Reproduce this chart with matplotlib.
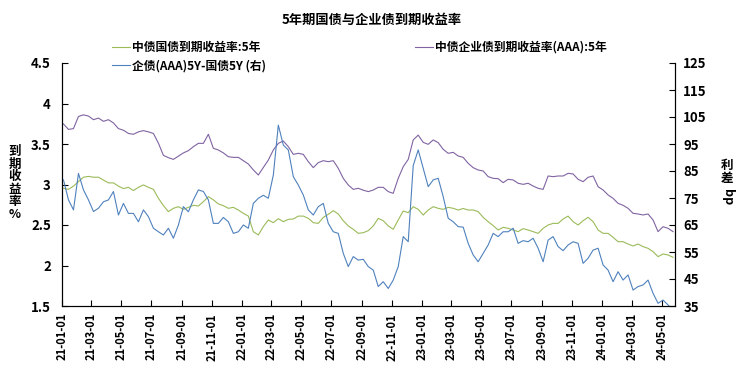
import matplotlib
matplotlib.use("Agg")
import matplotlib.pyplot as plt
import matplotlib.dates as mdates
import pandas as pd

plt.rcParams["font.family"] = ["Noto Sans CJK SC", "DejaVu Sans"]
plt.rcParams["font.weight"] = "bold"

# ---------------- data (~10 day steps) ----------------
start_date = "2021-01-04"
end_date = "2024-05-24"

# 中债企业债到期收益率(AAA):5年, %
corp_5y = [
    3.747, 3.68, 3.69, 3.84, 3.86, 3.845, 3.80, 3.82, 3.78, 3.80, 3.76, 3.69, 3.67, 3.63, 3.62,
    3.65, 3.665, 3.65, 3.63, 3.51, 3.36,
    3.331, 3.31, 3.35, 3.39, 3.418, 3.467, 3.508, 3.508, 3.62, 3.447, 3.426, 3.39, 3.343, 3.335,
    3.335, 3.294, 3.253, 3.18, 3.117, 3.21,
    3.302, 3.426, 3.508, 3.537, 3.467, 3.372, 3.385, 3.372, 3.282, 3.208, 3.27, 3.294, 3.282,
    3.294, 3.20, 3.076, 2.994, 2.94, 2.953, 2.93,
    2.912, 2.932, 2.965, 2.965, 2.912, 2.891, 3.076, 3.22, 3.31, 3.55, 3.61, 3.52, 3.496, 3.55,
    3.517, 3.434, 3.385, 3.397, 3.352, 3.335,
    3.261, 3.208, 3.179, 3.167, 3.097, 3.076, 3.072, 3.023, 3.064, 3.056, 3.015, 3.002, 3.015,
    2.981, 2.953, 2.94, 3.105, 3.097, 3.105, 3.105,
    3.138, 3.13, 3.064, 3.035, 3.089, 3.105, 2.973, 2.932, 2.871, 2.829, 2.768, 2.743, 2.706,
    2.644, 2.636, 2.624, 2.636, 2.562, 2.418, 2.479, 2.459, 2.418,
]

# 中债国债到期收益率:5年, %
govt_5y = [
    2.953, 2.94, 2.98, 3.035, 3.09, 3.10, 3.09, 3.09, 3.055, 3.02, 3.02, 2.98, 2.95, 2.965, 2.925,
    2.965, 2.995, 2.965, 2.94, 2.83, 2.74,
    2.665, 2.706, 2.726, 2.693, 2.718, 2.743, 2.735, 2.788, 2.85, 2.81, 2.76, 2.739, 2.706, 2.718,
    2.685, 2.644, 2.61, 2.418, 2.377, 2.48,
    2.562, 2.529, 2.578, 2.541, 2.57, 2.574, 2.61, 2.61, 2.582, 2.529, 2.52, 2.594, 2.632, 2.677,
    2.636, 2.553, 2.488, 2.447, 2.397, 2.405,
    2.43, 2.488, 2.582, 2.553, 2.488, 2.447, 2.562, 2.673, 2.652, 2.726, 2.693, 2.623, 2.685,
    2.726, 2.706, 2.693, 2.718, 2.706, 2.685, 2.704,
    2.685, 2.685, 2.665, 2.595, 2.541, 2.492, 2.438, 2.471, 2.459, 2.438, 2.418, 2.455, 2.438,
    2.418, 2.397, 2.459, 2.50, 2.52, 2.52, 2.574,
    2.61, 2.541, 2.50, 2.553, 2.595, 2.541, 2.438, 2.397, 2.397, 2.348, 2.294, 2.294, 2.265,
    2.241, 2.265, 2.233, 2.212, 2.171, 2.109, 2.142, 2.13, 2.101,
]

# 企债(AAA)5Y-国债5Y, bp (right axis)
spread_bp = [
    81.7, 74.3, 70.6, 84.1, 78, 74.3, 70, 71.2, 73.6, 74.3, 77.4, 68.7, 73, 69.3, 69.3,
    66.2, 70.6, 68.1, 63.8, 62.5, 61.3,
    63.8, 60.1, 65, 71.8, 69.9, 74.3, 78, 77.4, 74.3, 65.6, 65.6, 67.8, 66.2, 61.9,
    62.5, 65, 63.8, 73, 74.9, 76,
    74.9, 83.5, 102, 94.6, 92.8, 82.9, 79.8, 76.1, 70.6, 68.7, 71.8, 73, 65.6, 62.5,
    61.9, 54.5, 49.6, 53.3, 52, 52.3,
    49.6, 48.3, 42.2, 44, 41.5, 44.6, 49.6, 60.7, 58.8, 87, 92.8, 86, 79.2, 81.7,
    82.3, 75.5, 67.5, 66.2, 64.4, 64.2,
    58.2, 53.9, 51.4, 54.5, 57.6, 61.9, 60.7, 62.5, 62.5, 63.8, 58.2, 59.2, 58.8,
    60.1, 56.4, 51.4, 59.4, 60.7, 57, 55.5,
    57.6, 58.8, 58.2, 50.8, 52.7, 55.7, 56.4, 50.2, 48.3, 44, 47.7, 44.6, 46.5,
    40.9, 42.2, 42.8, 44.6, 39.7, 36, 37.2, 35.4, 33.5,
]

dates = pd.date_range(start_date, end_date, periods=len(corp_5y))
tick_dates = pd.date_range("2021-01-01", "2024-05-01", freq="2MS")

title = "5年期国债与企业债到期收益率"
lbl_govt = "中债国债到期收益率:5年"
lbl_corp = "中债企业债到期收益率(AAA):5年"
lbl_spread = "企债(AAA)5Y-国债5Y (右)"

# ---------------- figure ----------------
fig = plt.figure(figsize=(7.43, 3.78), dpi=100)
ax = fig.add_axes([62 / 743, 1 - 306 / 378, (675 - 62) / 743, (306 - 63) / 378])
ax2 = ax.twinx()

l_govt, = ax.plot(dates, govt_5y, color="#9BBB59", lw=0.8)
l_corp, = ax.plot(dates, corp_5y, color="#8064A2", lw=0.8)
l_spread, = ax2.plot(dates, spread_bp, color="#4F81BD", lw=0.8)

ax.set_ylim(1.5, 4.5)
ax.set_yticks([1.5, 2, 2.5, 3, 3.5, 4, 4.5])
ax.set_yticklabels(["1.5", "2", "2.5", "3", "3.5", "4", "4.5"])
ax2.set_ylim(35, 125)
ax2.set_yticks(range(35, 126, 10))

ax.set_xlim(pd.Timestamp("2021-01-01"), pd.Timestamp("2024-05-28"))
ax.set_xticks(tick_dates)
ax.xaxis.set_major_formatter(mdates.DateFormatter("%y-%m-%d"))

for a in (ax, ax2):
    a.spines["top"].set_visible(False)
    for s in ("left", "right", "bottom"):
        a.spines[s].set_linewidth(0.8)
    a.tick_params(direction="in", length=4, width=0.8, labelsize=9.5)
ax.tick_params(axis="x", rotation=90, labelsize=8, pad=5)
ax.tick_params(axis="y", pad=8)
ax2.tick_params(axis="y", pad=6)

fig.text(0.5, 1 - 20 / 378, title, ha="center", va="center", fontsize=9.5, fontweight="bold")
fig.text(15 / 743, 1 - 183 / 378, "到\n期\n收\n益\n率\n%", ha="center", va="center",
         fontsize=9, fontweight="bold", linespacing=0.95)
fig.text(727 / 743, 1 - 172 / 378, "利\n差", ha="center", va="center",
         fontsize=9, fontweight="bold", linespacing=0.95)
fig.text(727 / 743, 1 - 197 / 378, "bp", ha="center", va="center", rotation=-90,
         fontsize=9, fontweight="bold")

fig.legend([l_govt, l_spread, l_corp], [lbl_govt, lbl_spread, lbl_corp], ncol=2,
           loc="upper left", bbox_to_anchor=(112 / 743, 1 - 41 / 378), frameon=False,
           fontsize=8.5, handlelength=1.5, handletextpad=0.2, columnspacing=12.6,
           labelspacing=0.45, borderpad=0, borderaxespad=0)

fig.savefig("out.png", dpi=100)
